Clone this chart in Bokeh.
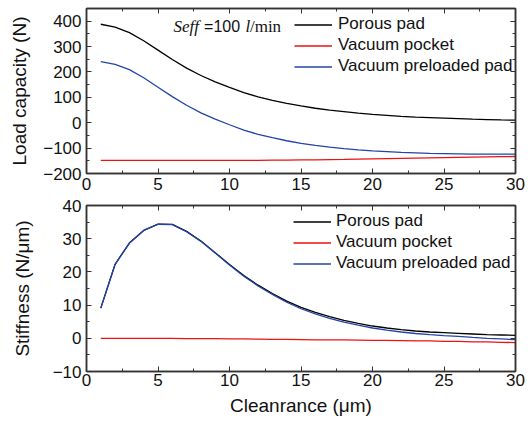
from bokeh.plotting import figure
from bokeh.models import (LinearAxis, Range1d, Legend, LegendItem, Label,
                          SingleIntervalTicker, CustomJSTickFormatter)
from bokeh.layouts import column
from bokeh.embed import file_html
from bokeh.resources import INLINE

clearance = list(range(1, 31))

load_porous = [388, 377, 355, 323, 286, 249, 215, 186, 161, 139,
               119, 102, 88, 76, 66, 57, 50, 44, 38, 33,
               29, 25, 22, 20, 18, 16, 14, 12.5, 11, 10]
load_vacuum_pocket = [-148, -148, -148, -148, -148, -148, -148, -148, -148, -148,
                      -148, -148, -147.5, -147, -146.5, -146, -145, -144.5, -143.5, -142.5,
                      -141.5, -140.5, -139.5, -138.5, -137.5, -136.5, -135.5, -134.5, -133.5, -133]
load_preloaded = [241, 230, 209, 177, 140, 103, 69, 39, 14, -8,
                  -29, -46, -59, -71, -81, -89, -96, -102, -107, -111,
                  -114, -117, -119, -121, -122, -123, -124, -124, -124, -124]

stiff_porous = [9.1, 22.3, 28.7, 32.5, 34.4, 34.3, 32.2, 29.3, 25.8, 22.2,
                18.9, 16.0, 13.5, 11.2, 9.3, 7.8, 6.5, 5.4, 4.5, 3.7,
                3.1, 2.6, 2.2, 1.9, 1.7, 1.5, 1.3, 1.1, 1.0, 0.9]
stiff_vacuum_pocket = [0.0, 0.0, 0.0, 0.0, -0.05, -0.05, -0.1, -0.1, -0.1, -0.15,
                       -0.2, -0.25, -0.3, -0.35, -0.4, -0.45, -0.5, -0.5, -0.55, -0.6,
                       -0.65, -0.7, -0.75, -0.8, -0.9, -0.95, -1.05, -1.1, -1.2, -1.3]
stiff_preloaded = [9.1, 22.3, 28.7, 32.5, 34.35, 34.25, 32.1, 29.2, 25.7, 22.05,
                   18.7, 15.75, 13.2, 10.85, 8.9, 7.35, 6.0, 4.9, 3.95, 3.1,
                   2.45, 1.9, 1.45, 1.1, 0.8, 0.55, 0.25, 0.0, -0.2, -0.4]

series_names = ["Porous pad", "Vacuum pocket", "Vacuum preloaded pad"]
series_colors = ["#000000", "#ee1111", "#2244aa"]

SANS = "Liberation Sans"
SERIF = "Liberation Serif"
AX_COLOR = "#333333"
TXT = "#111111"


def style_axis(ax, show_labels=True):
    ax.axis_line_color = AX_COLOR
    ax.axis_line_width = 1.5
    ax.major_tick_line_color = AX_COLOR
    ax.minor_tick_line_color = AX_COLOR
    ax.major_tick_in = 5
    ax.major_tick_out = 0
    ax.minor_tick_in = 3
    ax.minor_tick_out = 0
    ax.major_label_text_font = SANS
    ax.major_label_text_color = TXT
    ax.major_label_text_font_size = "17px"
    ax.axis_label_text_font = SANS
    ax.axis_label_text_font_style = "normal"
    ax.axis_label_text_font_size = "19px"
    ax.axis_label_text_color = TXT
    if not show_labels:
        ax.formatter = CustomJSTickFormatter(code="return ''")
        ax.major_label_standoff = 0


def make_fig(yr, y_interval, frame_h, mb_top, mb_bottom):
    p = figure(frame_width=429, frame_height=frame_h,
               x_range=Range1d(0, 30), y_range=Range1d(*yr),
               output_backend="svg", toolbar_location=None,
               x_axis_location=None, y_axis_location=None,
               min_border_left=86, min_border_right=16,
               min_border_top=mb_top, min_border_bottom=mb_bottom,
               background_fill_color="white", border_fill_color="white")
    p.xgrid.visible = False
    p.ygrid.visible = False
    p.outline_line_color = AX_COLOR
    p.outline_line_width = 1.5
    axes = {}
    for side, interval in [("below", 5), ("above", 5), ("left", y_interval), ("right", y_interval)]:
        ax = LinearAxis(ticker=SingleIntervalTicker(interval=interval, num_minor_ticks=2))
        style_axis(ax, side in ("below", "left"))
        p.add_layout(ax, side)
        axes[side] = ax
    return p, axes


def add_lines(p, ys, loc, standoff):
    items = []
    for name, col, y in zip(series_names, series_colors, ys):
        r = p.line(clearance, y, line_color=col, line_width=1.3)
        items.append(LegendItem(label=name, renderers=[r]))
    leg = Legend(items=items, location=loc, padding=0, spacing=0, margin=0,
                 glyph_width=38, glyph_height=21, label_height=21,
                 label_standoff=standoff, border_line_color=None,
                 background_fill_alpha=0, label_text_font=SANS,
                 label_text_font_size="17px", label_text_color=TXT)
    p.add_layout(leg)


# Top: load capacity
p1, ax1 = make_fig((-200, 450), 100, 165, 8, 24)
ax1["below"].major_label_standoff = 4
ax1["left"].axis_label = "Load capacity (N)"
ax1["left"].axis_label_standoff = 10
ax1["left"].major_label_standoff = 5
add_lines(p1, [load_porous, load_vacuum_pocket, load_preloaded], (208, 96.5), 6)

ann_x, ann_y = 6.08, 378
for txt, off, font, style, size in [("Seff", 0, SERIF, "italic", "17px"),
                                    ("=100", 30.6, SANS, "normal", "16px"),
                                    ("l", 72, SERIF, "italic", "17px"),
                                    ("/min", 76.5, SERIF, "normal", "17px")]:
    p1.add_layout(Label(x=ann_x, y=ann_y, x_offset=off, text=txt,
                        text_font=font, text_font_style=style,
                        text_font_size=size,
                        text_baseline="middle", text_align="left",
                        text_color=TXT))

# Bottom: stiffness
p2, ax2 = make_fig((-10, 40), 10, 166, 8, 52)
ax2["below"].major_label_standoff = 2
ax2["below"].axis_label = "Cleanrance (μm)"
ax2["below"].axis_label_standoff = 6
ax2["left"].axis_label = "Stiffness (N/μm)"
ax2["left"].axis_label_standoff = 17
ax2["left"].major_label_standoff = 5
add_lines(p2, [stiff_porous, stiff_vacuum_pocket, stiff_preloaded], (207, 97.5), 5)

layout = column(p1, p2, spacing=0)
open("out.html", "w").write(file_html(layout, INLINE))
